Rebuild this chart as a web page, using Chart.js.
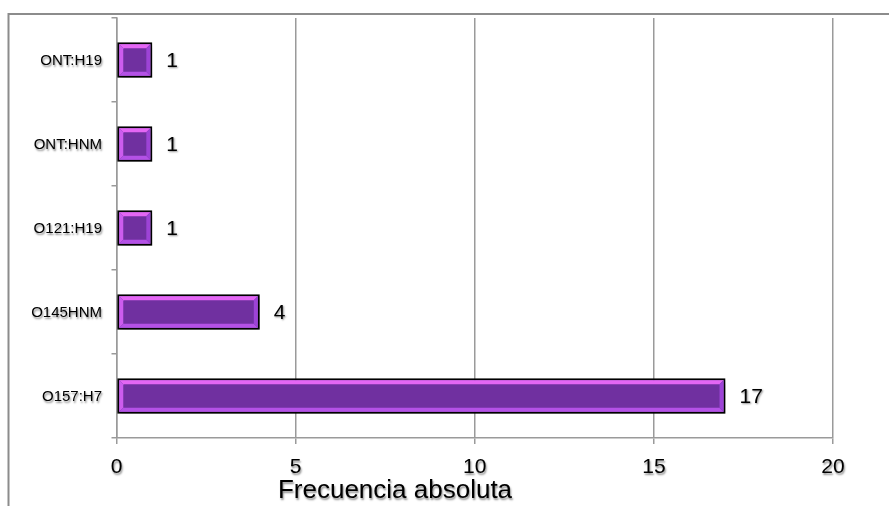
<!DOCTYPE html>
<html>
<head>
<meta charset="utf-8">
<script src="https://cdn.jsdelivr.net/npm/chart.js@4/dist/chart.umd.min.js"></script>
<style>
  html, body { margin: 0; padding: 0; background: #fff; }
  #wrap { width: 889px; height: 506px; position: relative; }
</style>
</head>
<body>
<div id="wrap"><canvas id="c" width="889" height="506"></canvas></div>
<script>
// Serotipos y frecuencia absoluta
const categories = ['ONT:H19', 'ONT:HNM', 'O121:H19', 'O145HNM', 'O157:H7'];
const frequencies = [1, 1, 1, 4, 17];
const xTicks = [0, 5, 10, 15, 20];
const axisTitle = 'Frecuencia absoluta';

const FONT = '"Liberation Sans", Arial, Helvetica, sans-serif';
const GRID = '#9a9a9a';

function textShadow(ctx) {
  ctx.shadowColor = 'rgba(0,0,0,0.45)';
  ctx.shadowBlur = 2;
  ctx.shadowOffsetX = 1;
  ctx.shadowOffsetY = 1.5;
}

// White background and the outer chart frame (top and left edges)
const framePlugin = {
  id: 'frame',
  beforeDraw(chart) {
    const ctx = chart.ctx;
    ctx.save();
    ctx.fillStyle = '#fff';
    ctx.fillRect(0, 0, chart.width, chart.height);
    ctx.strokeStyle = '#8c8c8c';
    ctx.lineWidth = 2;
    ctx.beginPath();
    ctx.moveTo(chart.width + 2, 14);
    ctx.lineTo(8.5, 14);
    ctx.lineTo(8.5, chart.height + 2);
    ctx.stroke();
    ctx.restore();
  }
};

// Soft drop shadow under the bars
const barShadowPlugin = {
  id: 'barShadow',
  beforeDatasetDraw(chart) {
    const ctx = chart.ctx;
    ctx.save();
    ctx.shadowColor = 'rgba(0,0,0,0.35)';
    ctx.shadowBlur = 6;
    ctx.shadowOffsetX = 2;
    ctx.shadowOffsetY = 4;
  },
  afterDatasetDraw(chart) {
    chart.ctx.restore();
  }
};

// Bevelled edges on each bar, value labels, tick labels with a soft shadow and the axis title
const bevelPlugin = {
  id: 'bevel',
  afterDatasetsDraw(chart) {
    const ctx = chart.ctx;
    const meta = chart.getDatasetMeta(0);
    const ds = chart.data.datasets[0];
    meta.data.forEach((bar, i) => {
      const p = bar.getProps(['x', 'y', 'base', 'height'], true);
      const bw = 2;
      const l = Math.min(p.base, p.x) + bw, r = Math.max(p.base, p.x) - bw;
      const t = p.y - p.height / 2 + bw, b = p.y + p.height / 2 - bw;
      const e = 4;
      ctx.save();
      const quad = (pts, col) => {
        ctx.fillStyle = col;
        ctx.beginPath();
        ctx.moveTo(pts[0][0], pts[0][1]);
        for (let k = 1; k < pts.length; k++) ctx.lineTo(pts[k][0], pts[k][1]);
        ctx.closePath();
        ctx.fill();
      };
      quad([[l, t], [r, t], [r - e, t + e], [l + e, t + e]], '#e466f4');
      quad([[l, t], [l + e, t + e], [l + e, b - e], [l, b]], '#cc5cee');
      quad([[l, b], [l + e, b - e], [r - e, b - e], [r, b]], '#b451e6');
      quad([[r, t], [r, b], [r - e, b - e], [r - e, t + e]], '#9d43d6');
      ctx.restore();

      // value label
      ctx.save();
      ctx.font = '21px ' + FONT;
      ctx.fillStyle = '#000';
      ctx.textAlign = 'left';
      ctx.textBaseline = 'middle';
      textShadow(ctx);
      ctx.fillText(String(ds.data[i]), Math.max(p.base, p.x) + 14, p.y + 1);
      ctx.restore();
    });

    const xs = chart.scales.x, ys = chart.scales.y;
    ctx.save();
    textShadow(ctx);
    ctx.fillStyle = '#000';

    // x tick labels
    ctx.font = '21px ' + FONT;
    ctx.textAlign = 'center';
    ctx.textBaseline = 'alphabetic';
    xs.ticks.forEach((tk, i) => {
      ctx.fillText(String(tk.value), xs.getPixelForTick(i), 473);
    });

    // category labels
    ctx.font = '15px ' + FONT;
    ctx.textAlign = 'right';
    ctx.textBaseline = 'middle';
    ys.ticks.forEach((tk, i) => {
      ctx.fillText(categories[tk.value], 102, ys.getPixelForTick(i) + 1);
    });

    // axis title
    ctx.font = '26px ' + FONT;
    ctx.textAlign = 'center';
    ctx.textBaseline = 'alphabetic';
    ctx.fillText(axisTitle, 395, 498);
    ctx.restore();
  }
};

new Chart(document.getElementById('c'), {
  type: 'bar',
  data: {
    labels: categories,
    datasets: [{
      data: frequencies,
      backgroundColor: '#7030a0',
      borderColor: '#000',
      borderWidth: 2,
      borderSkipped: false,
      barPercentage: 0.42,
      categoryPercentage: 1
    }]
  },
  options: {
    indexAxis: 'y',
    responsive: false,
    animation: false,
    layout: { padding: { left: 0, right: 56, top: 14, bottom: 0 } },
    plugins: {
      legend: { display: false },
      tooltip: { enabled: false },
      title: { display: false }
    },
    scales: {
      x: {
        type: 'linear',
        min: 0,
        max: 20,
        afterBuildTicks(scale) { scale.ticks = xTicks.map(v => ({ value: v })); },
        afterFit(scale) { scale.height = 68; },
        ticks: {
          font: { family: FONT, size: 21 },
          color: 'rgba(0,0,0,0)',
          padding: 7
        },
        grid: { color: GRID, lineWidth: 1.5, tickLength: 6, drawTicks: true },
        border: { color: GRID, width: 1.5 }
      },
      y: {
        afterFit(scale) { scale.width = 116.5; },
        ticks: {
          font: { family: FONT, size: 15 },
          color: 'rgba(0,0,0,0)',
          padding: 9
        },
        grid: { color: GRID, lineWidth: 1.5, drawOnChartArea: false, tickLength: 5, offset: true },
        border: { color: GRID, width: 1.5 }
      }
    }
  },
  plugins: [framePlugin, barShadowPlugin, bevelPlugin]
});
</script>
</body>
</html>
